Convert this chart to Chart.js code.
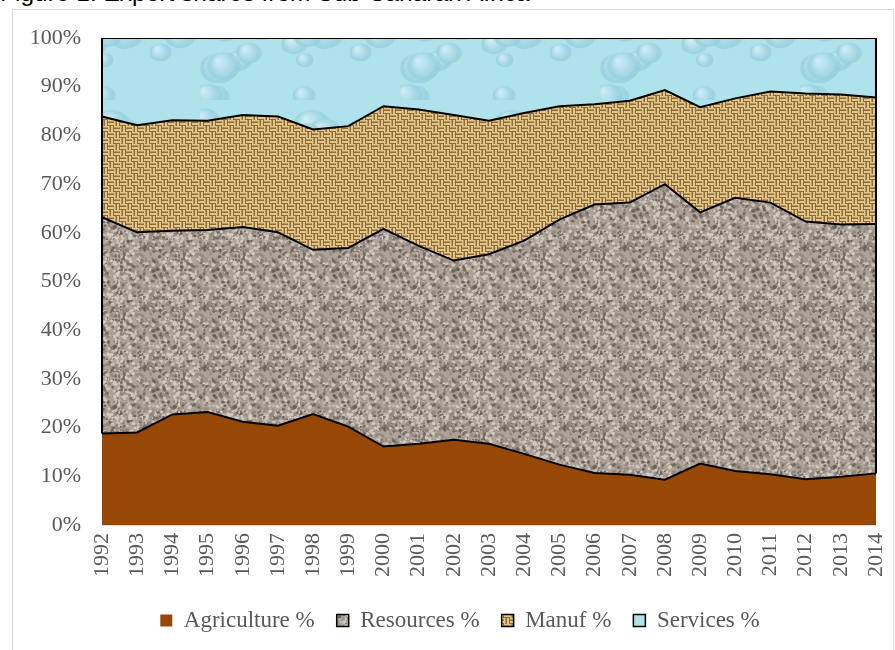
<!DOCTYPE html>
<html>
<head>
<meta charset="utf-8">
<script src="https://cdn.jsdelivr.net/npm/chart.js@4.4.1/dist/chart.umd.min.js"></script>
<style>
    html, body { margin: 0; padding: 0; background: #fff; overflow: hidden; }
    #title {
        position: absolute; left: 0; top: -21px;
        font: 24.5px "Liberation Sans", Arial, sans-serif; color: #000; white-space: nowrap;
    }
    #frame {
        position: absolute; left: 12px; top: 9px; width: 882px; height: 700px;
        border: 1px solid #d9d9d9; box-sizing: border-box;
    }
    #wrap { position: absolute; left: 0; top: 0; width: 895px; height: 650px; }
</style>
</head>
<body>
<div id="title">Figure 1: Export shares from Sub-Saharan Africa</div>
<div id="frame"></div>
<div id="wrap"><canvas id="chart"></canvas></div>
<script>
// Export shares (% of total)
const years = ['1992','1993','1994','1995','1996','1997','1998','1999','2000','2001','2002',
    '2003','2004','2005','2006','2007','2008','2009','2010','2011','2012','2013','2014'];
const agriculture = [18.8, 19.0, 22.7, 23.2, 21.2, 20.4, 22.8, 20.2, 16.1, 16.7, 17.5,
    16.7, 14.6, 12.4, 10.7, 10.3, 9.3, 12.6, 11.1, 10.4, 9.4, 9.9, 10.6];
const resources = [44.4, 41.1, 37.7, 37.4, 40.0, 39.7, 33.7, 36.7, 44.7, 40.6, 36.8,
    38.9, 43.8, 50.3, 55.1, 55.9, 60.7, 51.6, 56.1, 55.8, 52.9, 51.8, 51.2];
const manuf = [20.7, 22.0, 22.7, 22.4, 23.0, 23.8, 24.7, 25.0, 25.2, 28.0, 29.9,
    27.4, 26.2, 23.3, 20.6, 20.9, 19.3, 21.6, 20.4, 22.8, 26.3, 26.7, 26.0];
const services = [16.1, 17.9, 16.9, 17.0, 15.8, 16.1, 18.8, 18.1, 14.0, 14.7, 15.8,
    17.0, 15.4, 14.0, 13.6, 12.9, 10.7, 14.2, 12.4, 11.0, 11.4, 11.6, 12.2];
const yTicks = [0, 10, 20, 30, 40, 50, 60, 70, 80, 90, 100];

const FONT = '"Liberation Serif", "Times New Roman", serif';
const GREY = '#595959';

// small deterministic hash for texture fills
function hash(i, j, s) {
    const v = Math.sin(i * 127.1 + j * 311.7 + s * 74.7) * 43758.5453;
    return v - Math.floor(v);
}

function granitePattern(ctx) {
    const c = document.createElement('canvas');
    c.width = c.height = 60;
    const g = c.getContext('2d');
    g.fillStyle = '#ada399';
    g.fillRect(0, 0, 60, 60);
    for (let k = 0; k < 600; k++) {
        const x = hash(k, 1, 3) * 60, y = hash(k, 2, 4) * 60;
        const h = hash(k, 5, 6);
        if (h < 0.28) g.fillStyle = 'rgba(100,90,82,0.75)';
        else if (h < 0.68) g.fillStyle = 'rgba(214,206,197,0.8)';
        else g.fillStyle = 'rgba(145,135,126,0.8)';
        g.beginPath();
        g.arc(x, y, 0.8 + hash(k, 8, 9) * 1.2, 0, Math.PI * 2);
        g.fill();
    }
    return ctx.createPattern(c, 'repeat');
}

function burlapPattern(ctx) {
    const c = document.createElement('canvas');
    c.width = c.height = 24;
    const g = c.getContext('2d');
    g.fillStyle = '#8f6b36';
    g.fillRect(0, 0, 24, 24);
    for (let i = 0; i < 24; i += 6) {
        for (let j = 0; j < 24; j += 6) {
            const horiz = ((i / 6 + j / 6) % 2) === 0;
            g.fillStyle = '#e0c68c';
            if (horiz) { g.fillRect(i, j, 6, 2); g.fillRect(i, j + 3, 6, 2); }
            else { g.fillRect(i, j, 2, 6); g.fillRect(i + 3, j, 2, 6); }
            g.fillStyle = '#b99558';
            if (horiz) g.fillRect(i, j + 1, 6, 1);
            else g.fillRect(i + 1, j, 1, 6);
        }
    }
    return ctx.createPattern(c, 'repeat');
}

function waterPattern(ctx) {
    const c = document.createElement('canvas');
    c.width = 200; c.height = 100;
    const g = c.getContext('2d');
    g.fillStyle = '#b0e2ec';
    g.fillRect(0, 0, 200, 100);
    for (let k = 0; k < 18; k++) {
        const x = hash(k, 3, 2) * 200, y = hash(k, 7, 5) * 100;
        const r = 8 + hash(k, 11, 9) * 12;
        const grd = g.createRadialGradient(x - r / 3, y - r / 3, 1, x, y, r);
        grd.addColorStop(0, '#cdedf4');
        grd.addColorStop(0.65, '#a3d7e4');
        grd.addColorStop(1, 'rgba(135,198,215,0.45)');
        g.fillStyle = grd;
        g.beginPath();
        g.ellipse(x, y, r, r * 0.8, 0, 0, Math.PI * 2);
        g.fill();
    }
    return ctx.createPattern(c, 'repeat');
}

// black vertical edges on the left and right sides of the stacked areas
const edgePlugin = {
    id: 'edges',
    afterDatasetsDraw(chart) {
        const { ctx, scales: { x, y } } = chart;
        ctx.save();
        ctx.strokeStyle = '#000';
        ctx.lineWidth = 2;
        [0, years.length - 1].forEach(i => {
            const px = x.getPixelForValue(i);
            ctx.beginPath();
            ctx.moveTo(px, y.getPixelForValue(agriculture[i]));
            ctx.lineTo(px, y.getPixelForValue(100));
            ctx.stroke();
        });
        ctx.restore();
    }
};

// the legend sits a little right of the canvas centre in the original
const legendShift = {
    id: 'legendShift',
    afterLayout(chart) {
        chart.legend.left += 22;
        chart.legend.right += 22;
    }
};

const ctx = document.getElementById('chart').getContext('2d');

function area(label, data, bg, fill) {
    return {
        label, data, fill,
        backgroundColor: bg,
        borderColor: '#000',
        borderWidth: 2,
        pointRadius: 0,
        tension: 0
    };
}

new Chart(ctx, {
    type: 'line',
    data: {
        labels: years,
        datasets: [
            area('Agriculture %', agriculture, '#974706', 'origin'),
            area('Resources %', resources, granitePattern(ctx), '-1'),
            area('Manuf %', manuf, burlapPattern(ctx), '-1'),
            area('Services %', services, waterPattern(ctx), '-1')
        ]
    },
    options: {
        responsive: true,
        maintainAspectRatio: false,
        animation: false,
        layout: { padding: { top: 38, right: 19, bottom: 8, left: 0 } },
        plugins: {
            tooltip: { enabled: false },
            legend: {
                position: 'bottom',
                labels: {
                    font: { family: FONT, size: 23 },
                    color: GREY,
                    boxWidth: 12,
                    boxHeight: 12,
                    padding: 22,
                    generateLabels(chart) {
                        const items = Chart.defaults.plugins.legend.labels.generateLabels(chart);
                        items.forEach(it => { it.lineWidth = it.datasetIndex === 0 ? 0 : 1.5; });
                        return items;
                    }
                }
            }
        },
        scales: {
            x: {
                offset: false,
                grid: { display: false, drawOnChartArea: false, drawTicks: true, tickLength: 6, color: '#d9d9d9' },
                border: { display: true, color: '#d9d9d9' },
                ticks: {
                    color: GREY,
                    font: { family: FONT, size: 22 },
                    minRotation: 90,
                    maxRotation: 90,
                    autoSkip: false,
                    padding: 2
                },
                afterFit(scale) {
                    scale.height = 62;
                    scale.paddingLeft = 0;
                    scale.paddingRight = 0;
                }
            },
            y: {
                stacked: true,
                min: 0,
                max: 100,
                grid: { display: false, drawTicks: false },
                border: { display: false },
                afterBuildTicks(scale) { scale.ticks = yTicks.map(v => ({ value: v })); },
                ticks: {
                    color: GREY,
                    font: { family: FONT, size: 22 },
                    padding: 21,
                    callback: v => v + '%'
                },
                afterFit(scale) { scale.width = 102; }
            }
        }
    },
    plugins: [edgePlugin, legendShift]
});
</script>
</body>
</html>
